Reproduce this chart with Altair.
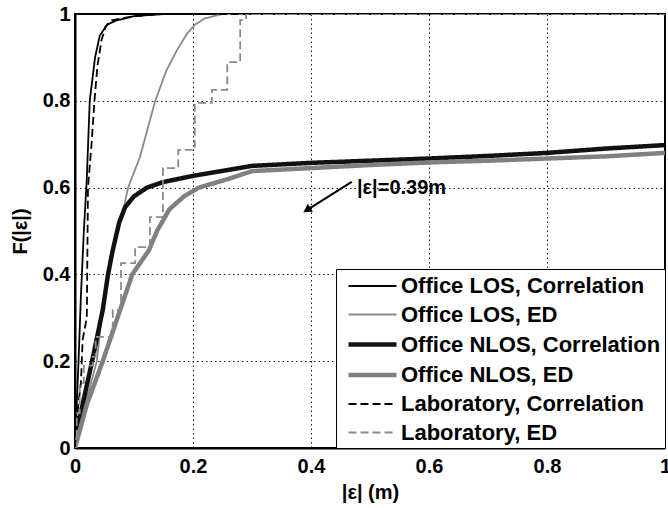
import altair as alt
import pandas as pd

# ---- data ----
series_names = [
    "Office LOS, Correlation",
    "Office LOS, ED",
    "Office NLOS, Correlation",
    "Office NLOS, ED",
    "Laboratory, Correlation",
    "Laboratory, ED",
]

los_corr_x = [0, 0.003, 0.006, 0.01, 0.015, 0.02, 0.025, 0.034, 0.042, 0.054, 0.07, 0.1, 0.15, 1.0]
los_corr_y = [0, 0.1, 0.2, 0.35, 0.5, 0.62, 0.8, 0.9, 0.95, 0.975, 0.985, 0.995, 1.0, 1.0]

los_ed_x = [0, 0.017, 0.037, 0.045, 0.055, 0.07, 0.082, 0.09, 0.11, 0.136, 0.155, 0.173, 0.19, 0.203, 0.22, 0.25, 1.0]
los_ed_y = [0, 0.1, 0.2, 0.3, 0.4, 0.5, 0.55, 0.6, 0.67, 0.8, 0.87, 0.917, 0.955, 0.975, 0.99, 1.0, 1.0]

nlos_corr_x = [0, 0.008, 0.029, 0.047, 0.056, 0.064, 0.075, 0.085, 0.1, 0.122, 0.15, 0.2, 0.3, 0.4, 0.5, 0.6, 0.7, 0.8, 0.9, 1.0]
nlos_corr_y = [0, 0.07, 0.2, 0.318, 0.4, 0.456, 0.52, 0.555, 0.58, 0.6, 0.613, 0.627, 0.65, 0.657, 0.662, 0.667, 0.673, 0.68, 0.69, 0.698]

nlos_ed_x = [0, 0.02, 0.047, 0.072, 0.097, 0.125, 0.139, 0.16, 0.185, 0.21, 0.26, 0.3, 0.4, 0.5, 0.6, 0.7, 0.8, 0.9, 1.0]
nlos_ed_y = [0, 0.1, 0.2, 0.3, 0.4, 0.455, 0.5, 0.55, 0.58, 0.6, 0.62, 0.638, 0.645, 0.652, 0.658, 0.662, 0.667, 0.672, 0.68]

lab_corr_x = [0, 0.004, 0.01, 0.013, 0.02, 0.021, 0.022, 0.028, 0.033, 0.038, 0.045, 0.052, 0.06, 0.1, 0.15, 1.0]
lab_corr_y = [0, 0.08, 0.15, 0.25, 0.3, 0.45, 0.6, 0.7, 0.8, 0.88, 0.94, 0.97, 0.985, 0.995, 1.0, 1.0]

lab_ed_x = [0, 0.003, 0.008, 0.015, 0.03, 0.035, 0.064, 0.078, 0.102, 0.127, 0.149, 0.175, 0.203, 0.232, 0.258, 0.28, 0.29, 1.0]
lab_ed_y = [0, 0.08, 0.15, 0.19, 0.21, 0.256, 0.318, 0.426, 0.463, 0.532, 0.645, 0.687, 0.795, 0.825, 0.889, 0.986, 1.0, 1.0]

series_colors = ["#000000", "#8a8a8a", "#111111", "#808080", "#000000", "#8a8a8a"]
series_widths = [1.8, 1.8, 4.5, 4.5, 1.8, 1.8]
series_dashes = [[1, 0], [1, 0], [1, 0], [1, 0], [8, 4], [8, 4]]

tick_values = [0, 0.2, 0.4, 0.6, 0.8, 1.0]

# annotation
arrow_x = [0.469]
arrow_y = [0.613]
arrow_x2 = [0.395]
arrow_y2 = [0.55]
annot_text = ["|ε|=0.39m"]
annot_x = [0.478]
annot_y = [0.599]

# ---- build tables ----
smooth = []
for name, xs, ys in [
    (series_names[0], los_corr_x, los_corr_y),
    (series_names[1], los_ed_x, los_ed_y),
    (series_names[2], nlos_corr_x, nlos_corr_y),
    (series_names[3], nlos_ed_x, nlos_ed_y),
    (series_names[4], lab_corr_x, lab_corr_y),
]:
    for i, (a, b) in enumerate(zip(xs, ys)):
        smooth.append({"series": name, "x": a, "y": b, "i": i})
df_smooth = pd.DataFrame(smooth)
df_step = pd.DataFrame({"series": series_names[5], "x": lab_ed_x, "y": lab_ed_y,
                        "i": list(range(len(lab_ed_x)))})

FONT = "Liberation Sans"

xscale = alt.Scale(domain=[0, 1], nice=False)
yscale = alt.Scale(domain=[0, 1], nice=False)

x_enc = alt.X("x:Q", scale=xscale, title="|ε| (m)",
              axis=alt.Axis(values=tick_values, format="~g", grid=True, labelPadding=8,
                            titlePadding=6))
y_enc = alt.Y("y:Q", scale=yscale, title="F(|ε|)",
              axis=alt.Axis(values=tick_values, format="~g", grid=True, labelPadding=5,
                            titlePadding=12))

legend = alt.Legend(
    orient="none", legendX=261, legendY=255, title=None,
    symbolType="M-2,0L2,0", symbolSize=576, symbolOffset=18,
    labelFont=FONT, labelFontSize=22, labelFontWeight="bold", labelColor="black",
    labelOffset=14, labelLimit=500,
    strokeColor="black", fillColor="white", padding=4, rowPadding=4.5,
)

sort_order = series_names
color_enc = alt.Color("series:O", sort=sort_order,
                      scale=alt.Scale(type="ordinal", domain=series_names, range=series_colors),
                      legend=legend)
width_enc = alt.StrokeWidth("series:O", sort=sort_order,
                            scale=alt.Scale(type="ordinal", domain=series_names, range=series_widths),
                            legend=legend)
dash_enc = alt.StrokeDash("series:O", sort=sort_order,
                          scale=alt.Scale(type="ordinal", domain=series_names, range=series_dashes),
                          legend=legend)

lines = alt.Chart(df_smooth).mark_line(clip=True).encode(
    x=x_enc, y=y_enc, color=color_enc, strokeWidth=width_enc, strokeDash=dash_enc,
    order="i:Q", detail="series:N",
)
step = alt.Chart(df_step).mark_line(interpolate="step-after", clip=True).encode(
    x=x_enc, y=y_enc, color=color_enc, strokeWidth=width_enc, strokeDash=dash_enc,
    order="i:Q",
)

df_arrow = pd.DataFrame({"x": arrow_x, "y": arrow_y, "x2": arrow_x2, "y2": arrow_y2})
arrow = alt.Chart(df_arrow).mark_rule(color="black", strokeWidth=2).encode(
    x="x:Q", y="y:Q", x2="x2:Q", y2="y2:Q"
)
head = alt.Chart(df_arrow).mark_point(shape="triangle", filled=True, color="black", size=90,
                                      angle=238, opacity=1).encode(
    x="x2:Q", y="y2:Q"
)
df_text = pd.DataFrame({"x": annot_x, "y": annot_y, "t": annot_text})
text = alt.Chart(df_text).mark_text(align="left", baseline="middle", font=FONT, fontSize=20,
                                    fontWeight="bold", color="black").encode(
    x="x:Q", y="y:Q", text="t:N"
)

chart = alt.layer(lines, step, arrow, head, text).properties(
    width=590, height=434,
    autosize=alt.AutoSizeParams(type="none"),
    padding={"left": 75, "top": 14, "right": 3, "bottom": 60},
    background="white",
).configure_view(
    stroke="black", strokeWidth=2
).configure_axis(
    labelFont=FONT, labelFontSize=20, labelFontWeight="bold", labelColor="black",
    titleFont=FONT, titleFontSize=20, titleFontWeight="bold", titleColor="black",
    domainColor="black", domainWidth=2, tickSize=0,
    gridColor="black", gridDash=[1.5, 3], gridWidth=1, gridOpacity=0.9,
    labelOverlap=False, labelFlush=False,
)

chart.save("out.html", embed_options={"renderer": "svg", "actions": False})
